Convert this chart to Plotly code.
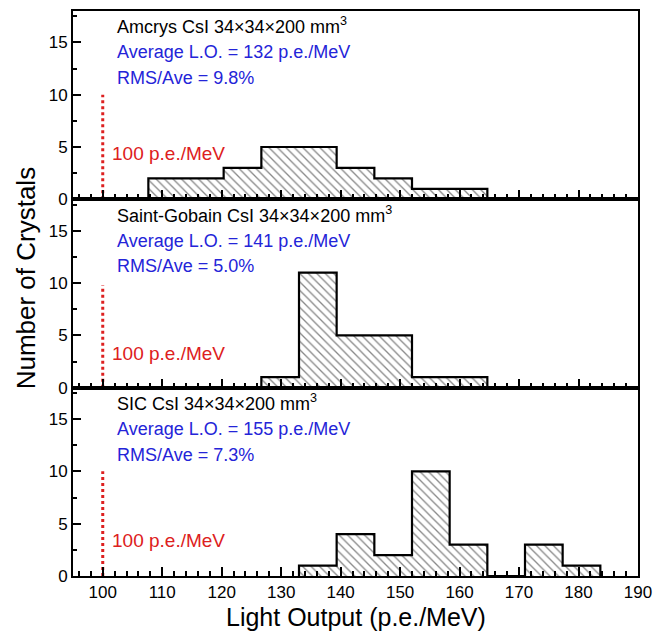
import plotly.graph_objects as go
from plotly.subplots import make_subplots

# ---- data ----
bin_edges = [107.67, 114.0, 120.33, 126.67, 133.0, 139.33, 145.67, 152.0,
             158.33, 164.67, 171.0, 177.33, 183.67]
counts_amcrys = [2, 2, 3, 5, 5, 3, 2, 1, 1, 0, 0, 0]
counts_saint_gobain = [0, 0, 0, 1, 11, 5, 5, 1, 1, 0, 0, 0]
counts_sic = [0, 0, 0, 0, 1, 4, 2, 10, 3, 0, 3, 1]

panel_titles = ["Amcrys CsI 34×34×200 mm<sup>3</sup>",
                "Saint-Gobain CsI 34×34×200 mm<sup>3</sup>",
                "SIC CsI 34×34×200 mm<sup>3</sup>"]
avg_lo = [132, 141, 155]
rms_ave = ["9.8%", "5.0%", "7.3%"]
threshold_x = 100
threshold_top = [10, 9.8, 10]
threshold_label_y = [4.35, 3.3, 3.4]
x_ticks = [100, 110, 120, 130, 140, 150, 160, 170, 180, 190]
y_ticks = [0, 5, 10, 15]

FONT = "Liberation Sans, Arial, sans-serif"
BLUE = "#2424d8"
RED = "#dd2020"

fig = make_subplots(rows=3, cols=1, shared_xaxes=True, vertical_spacing=0)

all_counts = [counts_amcrys, counts_saint_gobain, counts_sic]
for i, counts in enumerate(all_counts):
    row = i + 1
    centers = [(bin_edges[k] + bin_edges[k + 1]) / 2 for k in range(len(counts))]
    widths = [bin_edges[k + 1] - bin_edges[k] for k in range(len(counts))]
    fig.add_trace(go.Bar(
        x=centers, y=counts, width=widths,
        marker=dict(color="white", line=dict(width=0),
                    pattern=dict(shape="\\", fgcolor="#111111", bgcolor="white",
                                 size=6, solidity=0.22)),
        showlegend=False, hoverinfo="skip"), row=row, col=1)
    # step outline
    nz = [k for k, c in enumerate(counts) if c > 0]
    a, b = nz[0], nz[-1]
    xs = [bin_edges[a]] + [bin_edges[k] for k in range(a, b + 1)] + [bin_edges[b + 1]]
    ys = [0] + [counts[k] for k in range(a, b + 1)] + [0]
    fig.add_trace(go.Scatter(
        x=xs, y=ys, mode="lines", line=dict(shape="hv", color="black", width=2.2),
        showlegend=False, hoverinfo="skip"), row=row, col=1)
    # threshold line
    fig.add_trace(go.Scatter(
        x=[threshold_x, threshold_x], y=[0, threshold_top[i]], mode="lines",
        line=dict(color=RED, width=3, dash="dot"),
        showlegend=False, hoverinfo="skip"), row=row, col=1)

    xref = "x" if row == 1 else f"x{row}"
    yref = "y" if row == 1 else f"y{row}"
    fig.add_annotation(x=102.1, y=16.57, xref=xref, yref=yref, text=panel_titles[i],
                       showarrow=False, xanchor="left", yanchor="middle",
                       font=dict(family=FONT, size=18, color="black"))
    fig.add_annotation(x=102.1, y=14.05, xref=xref, yref=yref,
                       text=f"Average L.O. = {avg_lo[i]} p.e./MeV",
                       showarrow=False, xanchor="left", yanchor="middle",
                       font=dict(family=FONT, size=18, color=BLUE))
    fig.add_annotation(x=102.1, y=11.6, xref=xref, yref=yref,
                       text=f"RMS/Ave = {rms_ave[i]}",
                       showarrow=False, xanchor="left", yanchor="middle",
                       font=dict(family=FONT, size=18, color=BLUE))
    fig.add_annotation(x=101.2, y=threshold_label_y[i], xref=xref, yref=yref,
                       text=f"{threshold_x} p.e./MeV",
                       showarrow=False, xanchor="left", yanchor="middle",
                       font=dict(family=FONT, size=19, color=RED))

axis_common = dict(showline=True, linewidth=2, linecolor="black", mirror=True,
                   showgrid=False, zeroline=False, ticks="inside",
                   tickcolor="black", tickwidth=1.5,
                   tickfont=dict(family=FONT, size=17, color="black"))

for row in (1, 2, 3):
    fig.update_xaxes(range=[95, 190], tickvals=x_ticks, ticklen=9,
                     minor=dict(dtick=2, tick0=0, ticklen=5, ticks="inside",
                                tickcolor="black", tickwidth=1.5),
                     showticklabels=(row == 3), row=row, col=1, **axis_common)
    fig.update_yaxes(range=[0, 18], tickvals=y_ticks, ticklen=8,
                     minor=dict(dtick=2.5, tick0=0, ticklen=4, ticks="inside",
                                tickcolor="black", tickwidth=1.5),
                     row=row, col=1, **axis_common)

fig.add_annotation(x=-0.083, y=0.527, xref="paper", yref="paper",
                   text="Number of Crystals", textangle=-90, showarrow=False,
                   xanchor="center", yanchor="middle",
                   font=dict(family=FONT, size=26, color="black"))
fig.add_annotation(x=0.5, y=-0.072, xref="paper", yref="paper",
                   text="Light Output (p.e./MeV)", showarrow=False,
                   xanchor="center", yanchor="middle",
                   font=dict(family=FONT, size=25, color="black"))

fig.update_layout(width=665, height=636, bargap=0,
                  margin=dict(l=73, r=27, t=9, b=60),
                  paper_bgcolor="white", plot_bgcolor="white",
                  font=dict(family=FONT))

fig.write_html("out.html")
